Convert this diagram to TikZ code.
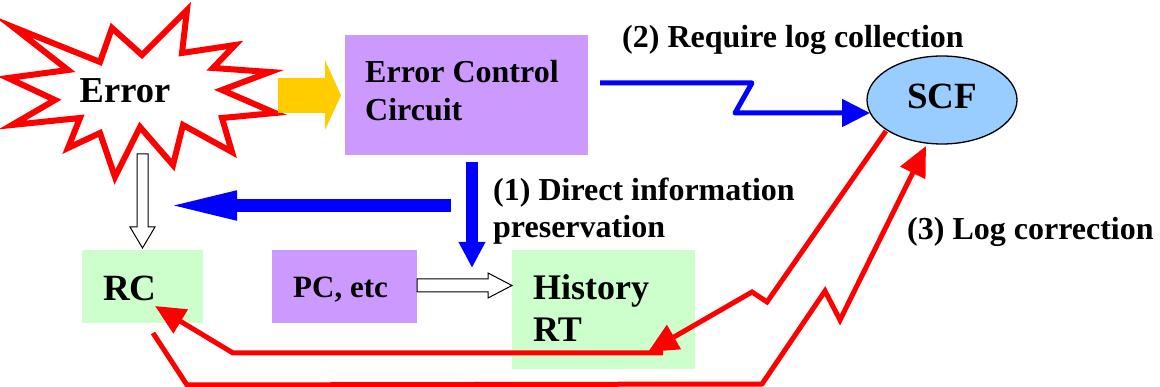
\documentclass[tikz,border=0pt]{standalone}
\usepackage{fontspec}
\setmainfont{Liberation Serif}[BoldFont={Liberation Serif Bold}]
\usetikzlibrary{arrows.meta,shapes.geometric,calc}
\definecolor{lpurple}{HTML}{CC99FF}
\definecolor{lgreen}{HTML}{CCFFCC}
\definecolor{lblue}{HTML}{99CCFF}
\definecolor{myred}{HTML}{FF0000}
\definecolor{myblue}{HTML}{0000FF}
\definecolor{myyellow}{HTML}{FFCC00}
\tikzset{
  pbox/.style={rectangle, fill=lpurple, draw=none, inner sep=0pt},
  gbox/.style={rectangle, fill=lgreen, draw=none, inner sep=0pt},
  lbl/.style={anchor=base west, inner sep=0pt, font=\rmfamily\bfseries\fontsize{32}{38}\selectfont},
  redline/.style={draw=myred, line width=5pt, line join=miter},
  redarrow/.style={redline, -{Triangle[length=30pt,width=27pt]}},
  openarrow/.style={draw=black, line width=1pt, fill=white, line join=miter},
}
\begin{document}
\begin{tikzpicture}[x=1pt,y=-1pt]
\useasboundingbox (0,0) rectangle (1160,387);

% Error starburst
\draw[myred, line width=6pt, line join=miter, fill=white]
 (13,27) -- (100,62) -- (112,28) -- (142,55) -- (187,10) -- (182,53) -- (235,45)
 -- (213,68) -- (270,72) -- (222,90) -- (275,113) -- (222,118) -- (232,152)
 -- (183,125) -- (173,165) -- (140,127) -- (115,177) -- (100,133) -- (68,148)
 -- (80,118) -- (12,125) -- (55,100) -- (8,78) -- (68,70) -- cycle;
\node[anchor=base, inner sep=0pt, font=\rmfamily\bfseries\fontsize{36.5}{44}\selectfont] (err) at (125,103) {Error};

% boxes
\node[pbox, minimum width=243pt, minimum height=120pt] (ecc) at (466.5,95) {};
\node[lbl] (ecct1) at (365,83) {Error Control};
\node[lbl] (ecct2) at (365,121) {Circuit};

\node[ellipse, draw=black, line width=1.3pt, fill=lblue, minimum width=150pt, minimum height=88pt, inner sep=0pt] (scf) at (942,100) {};
\node[lbl, font=\rmfamily\bfseries\fontsize{37}{44}\selectfont] (scft) at (907,109) {SCF};

\node[gbox, minimum width=121pt, minimum height=73pt] (rc) at (142.5,286.5) {};
\node[lbl, font=\rmfamily\bfseries\fontsize{37}{44}\selectfont] (rct) at (103,301) {RC};

\node[pbox, minimum width=145pt, minimum height=73pt] (pc) at (344.5,286.5) {};
\node[lbl, font=\rmfamily\bfseries\fontsize{31}{37}\selectfont] (pct) at (293,298) {PC, etc};

\node[gbox, minimum width=183pt, minimum height=119pt] (hist) at (603.5,309.5) {};
\node[lbl, font=\rmfamily\bfseries\fontsize{36}{42}\selectfont] (ht1) at (533,300) {History};
\node[lbl, font=\rmfamily\bfseries\fontsize{36}{42}\selectfont] (ht2) at (533,342) {RT};

% labels
\node[lbl] (l2) at (622,48) {(2) Require log collection};
\node[lbl] (l1a) at (493,201) {(1) Direct information};
\node[lbl] (l1b) at (493,238) {preservation};
\node[lbl] (l3) at (907,240) {(3) Log correction};

% yellow arrow Error -> ECC
\fill[myyellow] (278,78) -- (325,78) -- (325,60) -- (341,95.5) -- (325,130) -- (325,113) -- (278,113) -- cycle;

% blue arrows
\coordinate (bh1) at (451,205.5);
\coordinate (bh2) at (165,205.5);
\draw[myblue, line width=13pt, -{Triangle[length=72pt,width=26pt]}] (bh1) -- (bh2);
\coordinate (bv1) at (472,162);
\coordinate (bv2) at (472,268);
\draw[myblue, line width=12pt, -{Triangle[length=26pt,width=25pt]}] (bv1) -- (bv2);
\coordinate (bz1) at (600,83);
\coordinate (bz2) at (870,113);
\draw[myblue, line width=5pt, line join=round, -{Triangle[length=28pt,width=27pt]}]
  (bz1) -- (752,83) -- (735,113) -- (bz2);

% open arrows
\draw[openarrow] (137,154) -- (148,154) -- (148,227) -- (155,227) -- (142.5,248) -- (130,227) -- (137,227) -- cycle;
\draw[openarrow] (417,279) -- (488,279) -- (488,273) -- (512,285.5) -- (488,298) -- (488,292) -- (417,292) -- cycle;

% red lines
\coordinate (ra1) at (886,131);
\coordinate (ra2) at (648,352);
\draw[redarrow] (ra1) -- (767,302) -- (752,292) -- (ra2);
\coordinate (rb1) at (663,353);
\coordinate (rb2) at (155,306);
\draw[redarrow] (rb1) -- (233,353) -- (rb2);
\coordinate (rc1) at (153,333);
\coordinate (rc2) at (926,146);
\draw[redarrow] (rc1) -- (187,385) -- (762,384) -- (825,291) -- (840,320) -- (rc2);
\end{tikzpicture}
\end{document}
